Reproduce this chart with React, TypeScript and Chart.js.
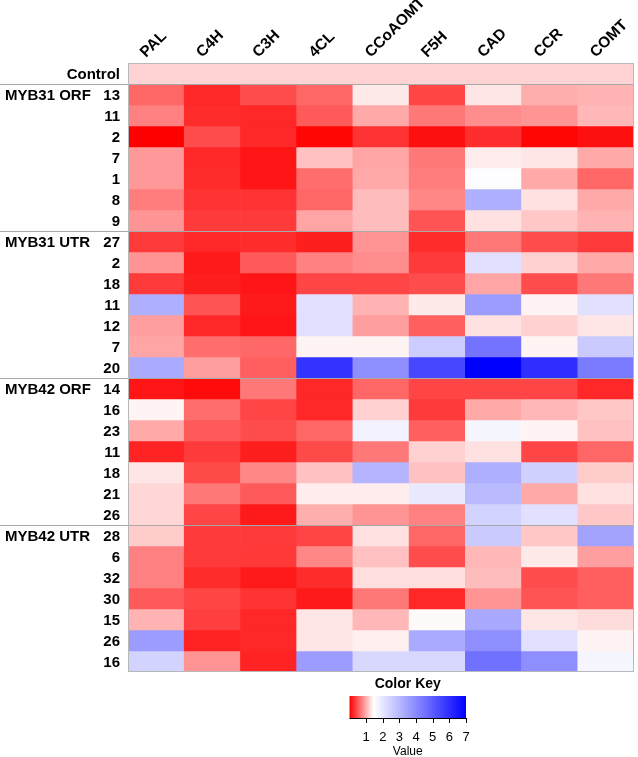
import React, { useEffect, useRef } from "react";
import { Chart, registerables } from "chart.js";

Chart.register(...registerables);

// ---- data ----
const genes = ["PAL", "C4H", "C3H", "4CL", "CCoAOMT", "F5H", "CAD", "CCR", "COMT"];

const controlLabel = "Control";
const controlValues = [1.2, 1.2, 1.2, 1.2, 1.2, 1.2, 1.2, 1.2, 1.2];

const myb31OrfName = "MYB31 ORF";
const myb31OrfLines = ["13", "11", "2", "7", "1", "8", "9"];
const myb31OrfValues = [
  [0.58, 0.22, 0.44, 0.58, 1.33, 0.39, 1.31, 0.99, 1.02],
  [0.73, 0.25, 0.22, 0.51, 0.96, 0.68, 0.8, 0.84, 1.04],
  [0.0, 0.44, 0.22, 0.03, 0.29, 0.09, 0.26, 0.03, 0.09],
  [0.87, 0.22, 0.12, 1.1, 0.94, 0.68, 1.35, 1.31, 0.96],
  [0.87, 0.25, 0.12, 0.62, 0.96, 0.71, 1.5, 0.96, 0.58],
  [0.71, 0.29, 0.29, 0.58, 1.07, 0.77, 3.2, 1.28, 0.96],
  [0.84, 0.33, 0.33, 0.94, 1.07, 0.48, 1.28, 1.13, 1.02],
];

const myb31UtrName = "MYB31 UTR";
const myb31UtrLines = ["27", "2", "18", "11", "12", "7", "20"];
const myb31UtrValues = [
  [0.33, 0.22, 0.25, 0.17, 0.84, 0.25, 0.68, 0.44, 0.33],
  [0.84, 0.15, 0.51, 0.73, 0.8, 0.33, 2.1, 1.19, 0.96],
  [0.33, 0.17, 0.12, 0.39, 0.39, 0.44, 0.94, 0.44, 0.68],
  [3.2, 0.48, 0.15, 2.1, 1.02, 1.33, 3.6, 1.39, 2.1],
  [0.9, 0.22, 0.12, 2.1, 0.9, 0.54, 1.28, 1.19, 1.31],
  [0.94, 0.62, 0.59, 1.39, 1.39, 2.55, 4.5, 1.39, 2.6],
  [3.3, 0.9, 0.54, 5.9, 3.9, 5.45, 7.0, 6.0, 4.35],
];

const myb42OrfName = "MYB42 ORF";
const myb42OrfLines = ["14", "16", "23", "11", "18", "21", "26"];
const myb42OrfValues = [
  [0.12, 0.06, 0.68, 0.22, 0.58, 0.39, 0.39, 0.39, 0.22],
  [1.39, 0.62, 0.39, 0.22, 1.19, 0.33, 0.96, 1.04, 1.13],
  [0.96, 0.51, 0.44, 0.58, 1.75, 0.54, 1.65, 1.39, 1.1],
  [0.2, 0.33, 0.17, 0.42, 0.68, 1.19, 1.28, 0.39, 0.58],
  [1.31, 0.42, 0.77, 1.1, 3.05, 1.1, 3.2, 2.45, 1.16],
  [1.22, 0.68, 0.51, 1.35, 1.35, 1.9, 2.95, 0.96, 1.28],
  [1.22, 0.39, 0.15, 0.99, 0.84, 0.73, 2.4, 2.1, 1.13],
];

const myb42UtrName = "MYB42 UTR";
const myb42UtrLines = ["28", "6", "32", "30", "15", "26", "16"];
const myb42UtrValues = [
  [1.16, 0.33, 0.33, 0.39, 1.28, 0.58, 2.6, 1.13, 3.45],
  [0.73, 0.33, 0.32, 0.77, 1.1, 0.44, 1.04, 1.33, 0.9],
  [0.73, 0.25, 0.15, 0.25, 1.26, 1.26, 1.07, 0.44, 0.54],
  [0.51, 0.39, 0.29, 0.15, 0.68, 0.22, 0.84, 0.48, 0.54],
  [1.02, 0.36, 0.22, 1.31, 1.04, 1.42, 3.35, 1.31, 1.25],
  [3.6, 0.2, 0.22, 1.31, 1.36, 3.3, 3.9, 2.1, 1.39],
  [2.4, 0.84, 0.2, 3.6, 2.3, 2.3, 4.55, 3.9, 1.65],
];

const keyMin = 0;
const keyMax = 7;
const keyWhite = 1.45;
const keyTicks = [1, 2, 3, 4, 5, 6, 7];
const keyTitle = "Color Key";
const keyAxisTitle = "Value";

// ---- build rows ----
type Row = { label: string; group: string | null; values: number[] };
const groups = [
  { name: myb31OrfName, lines: myb31OrfLines, values: myb31OrfValues },
  { name: myb31UtrName, lines: myb31UtrLines, values: myb31UtrValues },
  { name: myb42OrfName, lines: myb42OrfLines, values: myb42OrfValues },
  { name: myb42UtrName, lines: myb42UtrLines, values: myb42UtrValues },
];
const rows: Row[] = [{ label: controlLabel, group: null, values: controlValues }];
const separatorsAfter: number[] = [1];
groups.forEach((g) => {
  g.lines.forEach((l, i) => rows.push({ label: l, group: i === 0 ? g.name : null, values: g.values[i] }));
  separatorsAfter.push(rows.length);
});
separatorsAfter.pop();

function valueToColor(v: number): string {
  if (v <= keyWhite) {
    const t = Math.max(0, (v - keyMin) / (keyWhite - keyMin));
    const c = Math.round(255 * t);
    return `rgb(255,${c},${c})`;
  }
  const t = Math.min(1, (v - keyWhite) / (keyMax - keyWhite));
  const c = Math.round(255 * (1 - t));
  return `rgb(${c},${c},255)`;
}

const FONT = '"Liberation Sans", Arial, sans-serif';

const decorPlugin = {
  id: "heatDecor",
  afterDatasetsDraw(chart: any) {
    const { ctx, chartArea, scales } = chart;
    const xs = scales.x;
    const ys = scales.y;
    ctx.save();

    // separator lines
    ctx.strokeStyle = "#a8a8a8";
    ctx.lineWidth = 1;
    separatorsAfter.forEach((r) => {
      const y = Math.round(ys.getPixelForValue(r)) + 0.5;
      ctx.beginPath();
      ctx.moveTo(0, y);
      ctx.lineTo(chartArea.right, y);
      ctx.stroke();
    });
    // border
    ctx.strokeStyle = "#b8b8b8";
    ctx.strokeRect(
      Math.round(chartArea.left) + 0.5,
      Math.round(chartArea.top) + 0.5,
      Math.round(chartArea.right - chartArea.left) - 1,
      Math.round(chartArea.bottom - chartArea.top) - 1
    );

    // row labels
    ctx.fillStyle = "#000";
    ctx.font = `bold 15px ${FONT}`;
    ctx.textBaseline = "middle";
    rows.forEach((row, r) => {
      const y = ys.getPixelForValue(r + 0.5) + 1;
      ctx.textAlign = "right";
      ctx.fillText(row.label, chartArea.left - 8, y);
      if (row.group) {
        ctx.textAlign = "left";
        ctx.fillText(row.group, 5, y);
      }
    });

    // gene labels rotated
    ctx.font = `bold 15.5px ${FONT}`;
    ctx.textAlign = "left";
    ctx.textBaseline = "alphabetic";
    genes.forEach((g, i) => {
      const cx = xs.getPixelForValue(i);
      ctx.save();
      ctx.translate(cx - 10, chartArea.top - 5);
      ctx.rotate(-Math.PI / 4);
      ctx.fillText(g, 0, 0);
      ctx.restore();
    });

    // color key
    const kx0 = 349.5;
    const kx1 = 466;
    const ky0 = 696;
    const ky1 = 718;
    const kp = (v: number) => kx0 + ((v - keyMin) / (keyMax - keyMin)) * (kx1 - kx0);
    const grad = ctx.createLinearGradient(kx0, 0, kx1, 0);
    grad.addColorStop(0, valueToColor(keyMin));
    grad.addColorStop((keyWhite - keyMin) / (keyMax - keyMin), valueToColor(keyWhite));
    grad.addColorStop(1, valueToColor(keyMax));
    ctx.fillStyle = grad;
    ctx.fillRect(kx0, ky0, kx1 - kx0, ky1 - ky0);
    ctx.strokeStyle = "#000";
    ctx.lineWidth = 1;
    ctx.beginPath();
    ctx.moveTo(kx0, ky1 + 0.5);
    ctx.lineTo(kx1, ky1 + 0.5);
    ctx.stroke();
    ctx.fillStyle = "#000";
    ctx.font = `13px ${FONT}`;
    ctx.textAlign = "center";
    ctx.textBaseline = "middle";
    keyTicks.forEach((t) => {
      const x = Math.round(kp(t)) + 0.5;
      ctx.beginPath();
      ctx.moveTo(x, ky1);
      ctx.lineTo(x, ky1 + 5);
      ctx.stroke();
      ctx.fillText(String(t), kp(t), 737);
    });
    ctx.font = `12px ${FONT}`;
    ctx.fillText(keyAxisTitle, (kx0 + kx1) / 2, 752);
    ctx.font = `bold 14px ${FONT}`;
    ctx.fillText(keyTitle, (kx0 + kx1) / 2, 684);

    ctx.restore();
  },
};

export default function App() {
  const ref = useRef<HTMLCanvasElement>(null);
  useEffect(() => {
    document.body.style.margin = "0";
    const canvas = ref.current;
    if (!canvas) return;
    const datasets = rows.map((row) => ({
      label: row.label,
      data: row.values.map(() => 1),
      backgroundColor: row.values.map(valueToColor),
      borderWidth: 0,
      barPercentage: 1,
      categoryPercentage: 1,
    }));
    const chart = new Chart(canvas, {
      type: "bar",
      data: { labels: genes, datasets },
      options: {
        responsive: false,
        animation: false,
        devicePixelRatio: 1,
        layout: { padding: { left: 128, top: 63, right: 4, bottom: 85 } },
        plugins: { legend: { display: false }, tooltip: { enabled: false } },
        scales: {
          x: { type: "category", stacked: true, display: false, grid: { display: false } },
          y: { type: "linear", stacked: true, reverse: true, min: 0, max: rows.length, display: false },
        },
      },
      plugins: [decorPlugin],
    });
    return () => chart.destroy();
  }, []);
  return (
    <div style={{ width: 638, height: 757, background: "#fff" }}>
      <canvas ref={ref} width={638} height={757} style={{ display: "block" }} />
    </div>
  );
}
